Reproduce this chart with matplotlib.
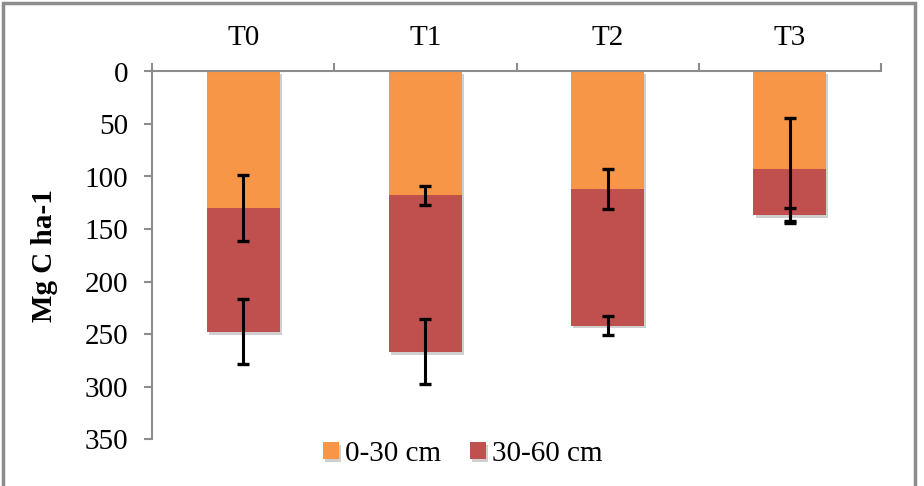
import matplotlib
matplotlib.use("Agg")
import matplotlib.pyplot as plt
import matplotlib.patheffects as pe
from matplotlib.patches import Rectangle
import numpy as np

categories = ["T0", "T1", "T2", "T3"]
series_names = ["0-30 cm", "30-60 cm"]
top_layer = [130, 118, 112, 93]      # 0-30 cm
deep_layer = [118, 149, 130, 44]     # 30-60 cm
top_err = [31, 9, 19, 49]
deep_err = [31, 31, 9, 7]
yticks = [0, 50, 100, 150, 200, 250, 300, 350]

orange = "#F79646"
red = "#C0504D"
gray = "#8C8C8C"

plt.rcParams["font.family"] = ["Liberation Serif", "DejaVu Serif"]
fs = 21

fig = plt.figure(figsize=(9.24, 4.86), dpi=100)
ax = fig.add_axes([152/924, 1-439/486, (881-152)/924, (439-71.5)/486])

x = np.arange(len(categories))
w = 0.4
shadow = [pe.SimplePatchShadow(offset=(1.5, -2), shadow_rgbFace="#777777", alpha=0.35), pe.Normal()]
b1 = ax.bar(x, top_layer, w, color=orange, label=series_names[0], zorder=2, path_effects=shadow)
b2 = ax.bar(x, deep_layer, w, bottom=top_layer, color=red, label=series_names[1], zorder=2, path_effects=shadow)

totals = np.array(top_layer) + np.array(deep_layer)
ekw = dict(fmt="none", ecolor="black", elinewidth=2.2, capsize=4.5, capthick=2.4, zorder=3)
ax.errorbar(x, top_layer, yerr=top_err, **ekw)
ax.errorbar(x, totals, yerr=deep_err, **ekw)

ax.set_xlim(-0.5, 3.5)
ax.set_ylim(350, 0)
ax.set_yticks(yticks)
ax.set_yticklabels([str(v) for v in yticks], fontsize=fs)

ax.xaxis.set_ticks_position("top")
ax.xaxis.set_label_position("top")
ax.set_xticks(x)
ax.set_xticklabels(categories, fontsize=fs)
ax.set_xticks(np.arange(-0.5, 4.0, 1.0), minor=True)
ax.tick_params(axis="x", which="major", length=0, pad=15, colors="black")
ax.tick_params(axis="x", which="minor", length=6, width=1.5, color=gray, direction="out")
ax.tick_params(axis="y", which="major", length=6, width=1.5, color=gray, pad=11)

for s in ["right", "bottom"]:
    ax.spines[s].set_visible(False)
for s in ["top", "left"]:
    ax.spines[s].set_color(gray)
    ax.spines[s].set_linewidth(1.5)

ax.set_ylabel("Mg C ha-1", fontsize=fs, fontweight="bold", labelpad=19)

fig.legend(handles=[b1, b2], labels=series_names, loc="center", bbox_to_anchor=(463/924, 1-454/486),
           ncol=2, frameon=False, fontsize=fs, handlelength=0.55, handleheight=0.55,
           handletextpad=0.2, columnspacing=1.0, borderaxespad=0)

fig.patches.append(Rectangle((3/924, -0.05), (915-3)/924, 1.05-3/486, transform=fig.transFigure,
                             fill=False, edgecolor=gray, linewidth=2.5, zorder=0))

fig.savefig("out.png", dpi=100)
